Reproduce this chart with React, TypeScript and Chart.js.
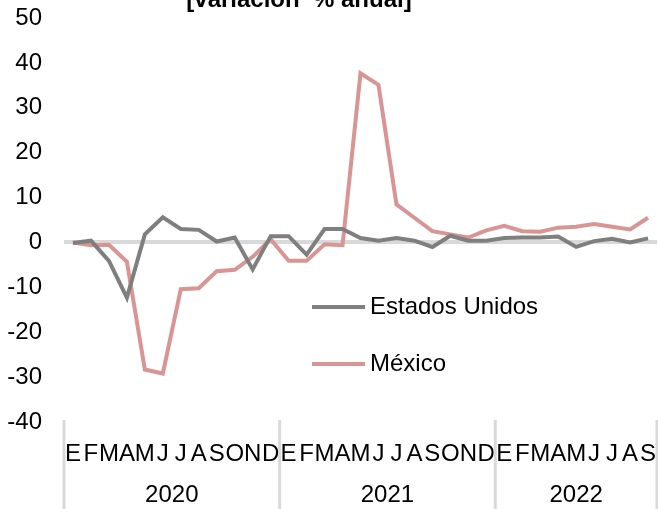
import React, { useEffect, useRef } from "react";
import { Chart, registerables } from "chart.js";

Chart.register(...registerables);

const monthLabels = [
  "E", "F", "M", "A", "M", "J", "J", "A", "S", "O", "N", "D",
  "E", "F", "M", "A", "M", "J", "J", "A", "S", "O", "N", "D",
  "E", "F", "M", "A", "M", "J", "J", "A", "S",
];
const yearLabels = ["2020", "2021", "2022"];
const monthsPerYear = [12, 12, 9];

const estadosUnidos = [
  -0.1, 0.4, -4.1, -12.3, 1.8, 5.6, 3.0, 2.8, 0.2, 1.1, -6.0, 1.4,
  1.4, -2.7, 3.0, 3.0, 1.0, 0.4, 1.0, 0.4, -1.0, 1.5, 0.4, 0.4,
  1.0, 1.1, 1.1, 1.3, -1.0, 0.3, 0.8, 0.0, 0.9,
];
const mexico = [
  0.0, -0.6, -0.5, -4.3, -28.3, -29.2, -10.4, -10.2, -6.4, -6.1, -3.2, 0.7,
  -4.1, -4.1, -0.4, -0.6, 37.7, 35.1, 8.5, 5.5, 2.5, 1.8, 1.1, 2.7,
  3.7, 2.5, 2.4, 3.3, 3.5, 4.1, 3.5, 2.9, 5.5,
];

const titleText = "[variación  % anual]";
const FONT = '"Liberation Sans", Arial, Helvetica, sans-serif';
const GRAY = "#7f7f7f";
const PINK = "#d99594";
const LIGHT = "#d9d9d9";

const overlayPlugin = {
  id: "overlay",
  afterDraw(chart: any) {
    const ctx = chart.ctx;
    const x = chart.scales.x;
    const area = chart.chartArea;
    ctx.save();
    // title (cut off at top)
    ctx.font = `bold 24px ${FONT}`;
    ctx.fillStyle = "#000";
    ctx.textAlign = "center";
    ctx.textBaseline = "alphabetic";
    ctx.fillText(titleText, 299, 7);

    // year separators and labels
    const half = (x.getPixelForValue(1) - x.getPixelForValue(0)) / 2;
    ctx.strokeStyle = LIGHT;
    ctx.lineWidth = 3;
    let start = 0;
    const edges: number[] = [];
    yearLabels.forEach((yl, i) => {
      const end = start + monthsPerYear[i] - 1;
      const left = x.getPixelForValue(start) - half;
      const right = x.getPixelForValue(end) + half;
      if (i === 0) edges.push(left);
      edges.push(right);
      ctx.font = `24px ${FONT}`;
      ctx.fillStyle = "#000";
      ctx.textAlign = "center";
      ctx.textBaseline = "middle";
      ctx.fillText(yl, (left + right) / 2, 495);
      start = end + 1;
    });
    edges.forEach((e) => {
      ctx.beginPath();
      ctx.moveTo(e, area.bottom - 2);
      ctx.lineTo(e, chart.height);
      ctx.stroke();
    });

    // legend
    const items = chart.data.datasets;
    const ly = [307, 364];
    items.forEach((ds: any, i: number) => {
      ctx.strokeStyle = ds.borderColor;
      ctx.lineWidth = 4;
      ctx.beginPath();
      ctx.moveTo(312, ly[i]);
      ctx.lineTo(365, ly[i]);
      ctx.stroke();
      ctx.font = `24px ${FONT}`;
      ctx.fillStyle = "#000";
      ctx.textAlign = "left";
      ctx.textBaseline = "middle";
      ctx.fillText(ds.label, 370, ly[i]);
    });
    ctx.restore();
  },
};

export default function App() {
  const ref = useRef<HTMLCanvasElement>(null);
  useEffect(() => {
    if (!ref.current) return;
    const chart = new Chart(ref.current, {
      type: "line",
      data: {
        labels: monthLabels,
        datasets: [
          {
            label: "Estados Unidos",
            data: estadosUnidos,
            borderColor: GRAY,
            backgroundColor: GRAY,
            borderWidth: 4,
            pointRadius: 0,
            tension: 0,
          },
          {
            label: "México",
            data: mexico,
            borderColor: PINK,
            backgroundColor: PINK,
            borderWidth: 4,
            pointRadius: 0,
            tension: 0,
          },
        ],
      },
      options: {
        animation: false,
        responsive: false,
        maintainAspectRatio: false,
        layout: { padding: { top: 18, right: 1, left: 0, bottom: 0 } },
        plugins: {
          legend: { display: false },
          title: { display: false },
          tooltip: { enabled: false },
        },
        scales: {
          x: {
            type: "category",
            offset: true,
            grid: { display: false, drawTicks: false },
            border: { display: false },
            ticks: {
              autoSkip: false,
              maxRotation: 0,
              minRotation: 0,
              padding: 18,
              color: "#000",
              font: { family: FONT, size: 24 },
            },
            afterFit: (s: any) => {
              s.height = 87;
              s.paddingLeft = 0;
              s.paddingRight = 0;
            },
          },
          y: {
            min: -40,
            max: 50,
            ticks: {
              stepSize: 10,
              padding: 22,
              color: "#000",
              font: { family: FONT, size: 24 },
            },
            grid: {
              drawTicks: false,
              color: (c: any) => (c.tick && c.tick.value === 0 ? LIGHT : "rgba(0,0,0,0)"),
              lineWidth: (c: any) => (c.tick && c.tick.value === 0 ? 4 : 0),
            },
            border: { display: false },
            afterFit: (s: any) => {
              s.width = 64;
              s.paddingTop = 0;
              s.paddingBottom = 0;
            },
          },
        },
      },
      plugins: [overlayPlugin],
    });
    return () => chart.destroy();
  }, []);
  return (
    <div style={{ position: "fixed", left: 0, top: 0, width: 658, height: 509, background: "#fff" }}>
      <canvas ref={ref} width={658} height={509} style={{ display: "block", width: 658, height: 509 }} />
    </div>
  );
}
